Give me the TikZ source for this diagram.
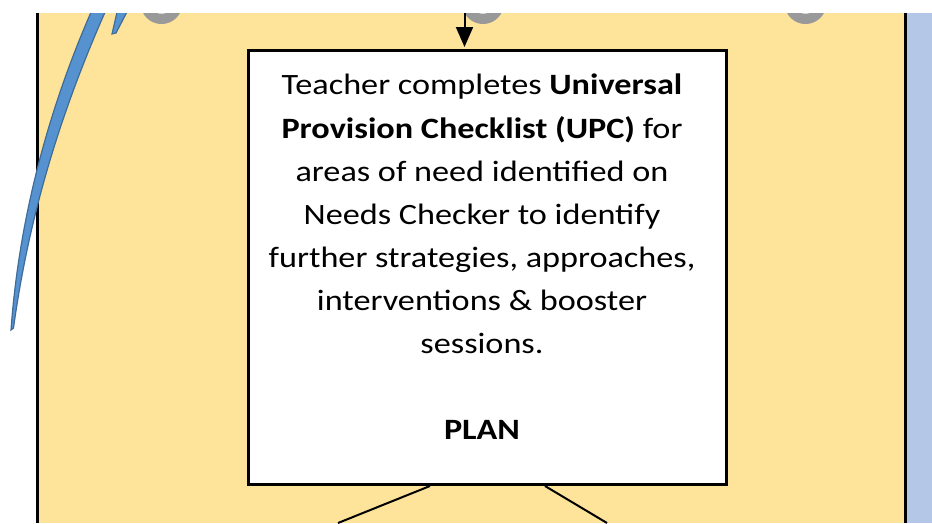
\documentclass[tikz,border=0pt]{standalone}
\usepackage{fontspec}
\setmainfont{Carlito}[FakeStretch=1.16]
\usetikzlibrary{arrows.meta}
\definecolor{panelyellow}{RGB}{254,228,155}
\definecolor{panelblue}{RGB}{180,199,231}
\definecolor{ringgrey}{RGB}{153,153,153}
\definecolor{ringfill}{RGB}{222,222,222}
\definecolor{arcblue}{RGB}{86,146,208}
\definecolor{arcedge}{RGB}{62,108,152}
\tikzset{
  panelrule/.style={line width=3pt},
  stagebox/.style={draw, line width=3pt, fill=white, inner sep=0pt},
  link/.style={line width=2pt},
  stagetext/.style={font=\fontsize{29.5}{43.1}\selectfont, align=center, inner sep=0pt},
  sweep/.style={fill=arcblue, draw=arcedge, line width=1.2pt},
}
\begin{document}
\begin{tikzpicture}[x=1pt,y=-1pt]
\useasboundingbox (0,0) rectangle (932,523);
\begin{scope}
  \clip (0,13) rectangle (932,523);
  % stage panel and neighbouring panel
  \fill[panelyellow] (37.5,13) rectangle (905.5,523);
  \fill[panelblue] (905.5,13) rectangle (932,523);
  \draw[panelrule] (37.5,0) -- (37.5,523);
  \draw[panelrule] (905.5,0) -- (905.5,523);
  % ring markers along the top edge
  \foreach \cx in {161.5,483,805.5}
    \draw[ringgrey, line width=10pt, fill=ringfill] (\cx,3) circle (16);
  % tapering cycle arrow sweeping round the left side
  \path[sweep] (96,1) .. controls (55,92) and (20,205) .. (11,330)
    -- (13.5,328) .. controls (31,200) and (69,92) .. (110,1) -- cycle;
  \path[sweep] (118,8) -- (129,8) -- (116,33) -- (112,34) -- cycle;
\end{scope}
% PLAN stage
\node[stagebox, minimum width=478pt, minimum height=434.5pt, anchor=north west] (plan) at (246.5,48.5) {};
\node[stagetext, anchor=north] (plantext) at (482,74) {Teacher completes \textbf{Universal}\\
\textbf{Provision Checklist (UPC)} for\\
areas of need identified on\\
Needs Checker to identify\\
further strategies, approaches,\\
interventions \& booster\\
sessions.\\
\mbox{}\\
\textbf{PLAN}};
% connectors
\coordinate (fromabove) at (464.5,13);
\draw[link, -{Triangle[length=20pt,width=17pt]}, shorten >=1.5pt] (fromabove) -- (fromabove |- plan.north);
\coordinate (downleft) at (338,523);
\coordinate (downright) at (607,523);
\draw[link] ([xshift=183.5pt]plan.south west) -- (downleft);
\draw[link] ([xshift=298.5pt]plan.south west) -- (downright);
\end{tikzpicture}
\end{document}
